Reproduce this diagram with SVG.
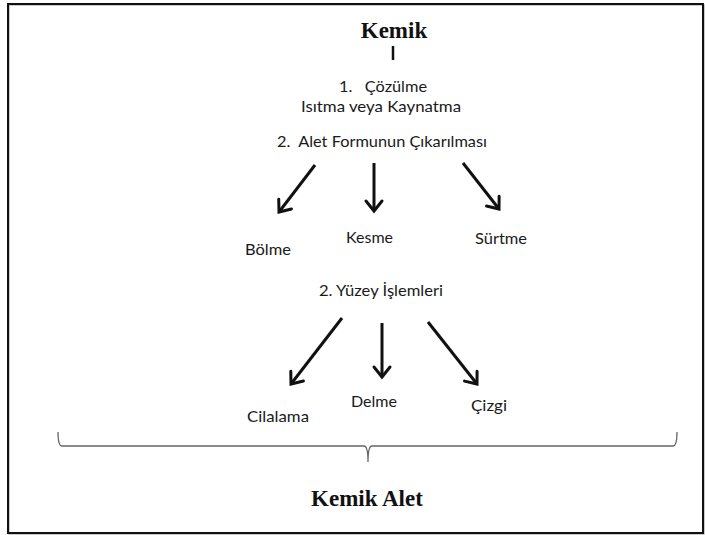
<svg xmlns="http://www.w3.org/2000/svg" width="705" height="535" viewBox="0 0 705 535">
<defs>
<marker id="ah" markerUnits="userSpaceOnUse" viewBox="-14 -12 18 24" refX="0" refY="0" markerWidth="18" markerHeight="24" orient="auto">
<path d="M-10,-8 L0,0 L-10,8" fill="none" stroke="#111" stroke-width="3" stroke-linecap="round" stroke-linejoin="miter"/>
</marker>
<style>
.t{font-family:Lato,"Liberation Sans",sans-serif;font-size:16px;fill:#1a1a1a}
.h{font-family:"Liberation Serif","Times New Roman",serif;font-size:23px;font-weight:bold;fill:#111}
.a{stroke:#111;stroke-width:3;fill:none;marker-end:url(#ah)}
</style>
</defs>
<rect width="705" height="535" fill="#fff"/>
<rect x="9" y="5" width="695" height="529" fill="none" stroke="#bbb" stroke-width="1.5"/>
<rect x="8" y="4" width="695" height="529" fill="none" stroke="#111" stroke-width="2"/>

<g id="kemik"><text class="h" x="394" y="38" text-anchor="middle">Kemik</text></g>
<g id="cozulme">
<text class="t" x="339" y="92" textLength="88" lengthAdjust="spacingAndGlyphs" xml:space="preserve">1.   Çözülme</text>
<text class="t" x="301" y="112" textLength="160" lengthAdjust="spacingAndGlyphs">Isıtma veya Kaynatma</text>
</g>
<g id="alet-formu"><text class="t" x="277" y="147" textLength="210" lengthAdjust="spacingAndGlyphs" xml:space="preserve">2.  Alet Formunun Çıkarılması</text></g>
<g id="bolme"><text class="t" x="245" y="255" textLength="46" lengthAdjust="spacingAndGlyphs">Bölme</text></g>
<g id="kesme"><text class="t" x="346" y="243" textLength="47" lengthAdjust="spacingAndGlyphs">Kesme</text></g>
<g id="surtme"><text class="t" x="475" y="244" textLength="52" lengthAdjust="spacingAndGlyphs">Sürtme</text></g>
<g id="yuzey"><text class="t" x="319" y="296" textLength="124" lengthAdjust="spacingAndGlyphs">2. Yüzey İşlemleri</text></g>
<g id="cilalama"><text class="t" x="247" y="422" textLength="62" lengthAdjust="spacingAndGlyphs">Cilalama</text></g>
<g id="delme"><text class="t" x="351" y="407" textLength="46" lengthAdjust="spacingAndGlyphs">Delme</text></g>
<g id="cizgi"><text class="t" x="471" y="411" textLength="36" lengthAdjust="spacingAndGlyphs">Çizgi</text></g>
<g id="kemik-alet"><text class="h" x="367" y="506" text-anchor="middle">Kemik Alet</text></g>

<g id="connectors">
<line x1="393" y1="46" x2="393" y2="60" stroke="#111" stroke-width="2.5"/>
<line class="a" x1="315" y1="165" x2="279" y2="212"/>
<line class="a" x1="374" y1="163" x2="374" y2="211"/>
<line class="a" x1="463" y1="163" x2="499" y2="209"/>
<line class="a" x1="342" y1="318" x2="291" y2="384"/>
<line class="a" x1="382" y1="323" x2="382" y2="377"/>
<line class="a" x1="428" y1="322" x2="477" y2="384"/>
<path d="M58,432 Q58,446 62,446 L364,446 Q368,446 368,462 Q368,446 372,446 L673,446 Q677,446 677,432" fill="none" stroke="#666" stroke-width="1.3"/>
</g>
</svg>
